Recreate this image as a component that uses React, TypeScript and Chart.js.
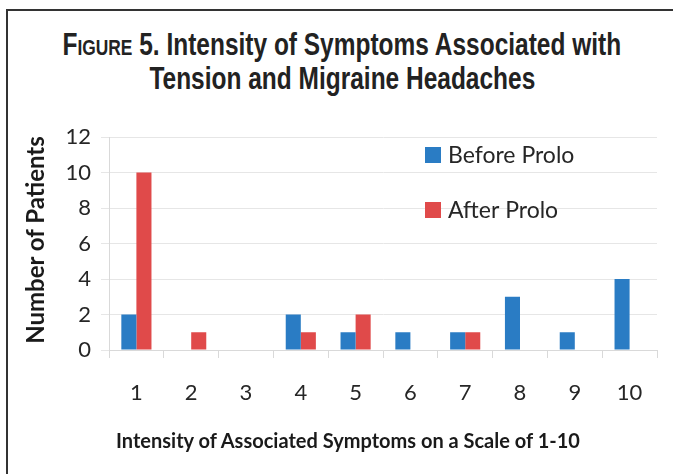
import React, { useEffect, useLayoutEffect, useRef } from "react";
import { Chart, registerables } from "chart.js";

Chart.register(...registerables);

const categories = ["1", "2", "3", "4", "5", "6", "7", "8", "9", "10"];
const beforeProlo = [2, 0, 0, 2, 1, 1, 1, 3, 1, 4];
const afterProlo = [10, 1, 0, 1, 2, 0, 1, 0, 0, 0];
const seriesLabels = ["Before Prolo", "After Prolo"];
const seriesColors = ["#2a7cc4", "#e04a4a"];
const yTicks = [0, 2, 4, 6, 8, 10, 12];

const FONT = "Lato, 'Open Sans', sans-serif";

const legendPlugin = {
  id: "insideLegend",
  afterDraw(chart: any) {
    const ctx = chart.ctx;
    const area = chart.chartArea;
    const ys = [area.top + 18, area.top + 73];
    ctx.save();
    chart.data.datasets.forEach((ds: any, i: number) => {
      const x = area.left + 316;
      const y = ys[i];
      ctx.fillStyle = ds.backgroundColor;
      ctx.fillRect(x, y - 8, 16, 16);
      ctx.fillStyle = "#262626";
      ctx.font = `23px ${FONT}`;
      ctx.textBaseline = "middle";
      ctx.textAlign = "left";
      ctx.fillText(ds.label, x + 23, y + 1);
    });
    ctx.restore();
  },
};

export default function App() {
  const ref = useRef<HTMLCanvasElement>(null);
  const l1 = useRef<HTMLDivElement>(null);
  const l2 = useRef<HTMLDivElement>(null);

  useLayoutEffect(() => {
    document.body.style.margin = "0";
    if (l1.current && l2.current) {
      const w = l1.current.scrollWidth;
      const s = 559 / w;
      l1.current.style.transform = `scaleX(${s})`;
      l2.current.style.transform = `scaleX(${s})`;
    }
  }, []);

  useEffect(() => {
    const chart = new Chart(ref.current!, {
      type: "bar",
      data: {
        labels: categories,
        datasets: [
          { label: seriesLabels[0], data: beforeProlo, backgroundColor: seriesColors[0] },
          { label: seriesLabels[1], data: afterProlo, backgroundColor: seriesColors[1] },
        ],
      },
      options: {
        animation: false,
        responsive: false,
        maintainAspectRatio: false,
        layout: { padding: { top: 137, left: 0, right: 16, bottom: 0 } },
        datasets: { bar: { categoryPercentage: 0.55, barPercentage: 1 } },
        plugins: {
          legend: { display: false },
          tooltip: { enabled: false },
          title: { display: false },
        },
        scales: {
          x: {
            afterFit(scale: any) {
              scale.height = 124;
            },
            grid: {
              display: true,
              drawOnChartArea: false,
              drawTicks: true,
              tickLength: 8,
              color: "#d9d9d9",
              offset: true,
            },
            border: { display: true, color: "#d9d9d9" },
            ticks: { color: "#262626", font: { family: FONT, size: 22 }, padding: 22 },
          },
          y: {
            min: 0,
            max: 12,
            afterFit(scale: any) {
              scale.width = 109;
            },
            afterBuildTicks(scale: any) {
              scale.ticks = yTicks.map((v) => ({ value: v }));
            },
            grid: { color: "#e6e6e6", drawTicks: true, tickLength: 8 },
            border: { display: true, color: "#d9d9d9" },
            ticks: { color: "#262626", font: { family: FONT, size: 22 }, padding: 10 },
          },
        },
      },
      plugins: [legendPlugin],
    });
    return () => chart.destroy();
  }, []);

  const titleLine: React.CSSProperties = {
    whiteSpace: "nowrap",
    display: "inline-block",
    transformOrigin: "center",
  };

  return (
    <div style={{ position: "relative", width: 673, height: 474, background: "#fff", overflow: "hidden" }}>
      <div style={{ position: "absolute", left: 6, top: 9, width: 667, height: 465, borderLeft: "2px solid #333", borderTop: "2px solid #333" }} />
      <div
        style={{
          position: "absolute",
          left: 342 - 500,
          width: 1000,
          top: 28,
          textAlign: "center",
          fontFamily: "'Liberation Sans', Arial, sans-serif",
          fontWeight: "bold",
          fontSize: 31,
          lineHeight: "34px",
          color: "#222",
        }}
      >
        <div><div ref={l1} style={titleLine}><span style={{ fontVariant: "small-caps" }}>Figure</span> 5. Intensity of Symptoms Associated with</div></div>
        <div><div ref={l2} style={titleLine}>Tension and Migraine Headaches</div></div>
      </div>
      <canvas ref={ref} width={673} height={474} style={{ position: "absolute", left: 0, top: 0 }} />
      <div
        style={{
          position: "absolute",
          left: 348 - 300,
          width: 600,
          top: 428,
          textAlign: "center",
          fontFamily: FONT,
          fontWeight: "bold",
          fontSize: 20,
          lineHeight: "24px",
          color: "#1a1a1a",
          whiteSpace: "nowrap",
        }}
      >
        Intensity of Associated Symptoms on a Scale of 1-10
      </div>
      <div
        style={{
          position: "absolute",
          left: 35 - 150,
          top: 240 - 15,
          width: 300,
          height: 30,
          lineHeight: "30px",
          textAlign: "center",
          transform: "rotate(-90deg)",
          fontFamily: FONT,
          fontWeight: "bold",
          fontSize: 24,
          color: "#1a1a1a",
          whiteSpace: "nowrap",
        }}
      >
        Number of Patients
      </div>
    </div>
  );
}
